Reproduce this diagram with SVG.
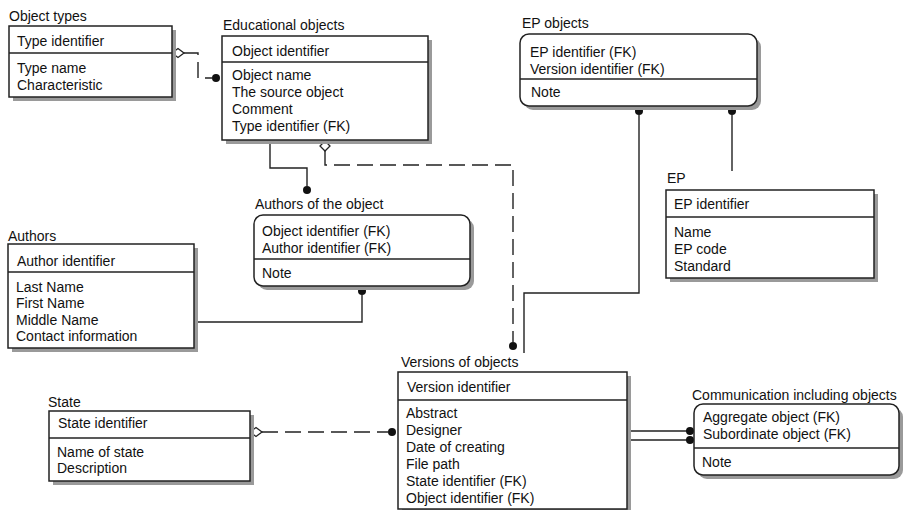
<svg xmlns="http://www.w3.org/2000/svg" width="906" height="510" viewBox="0 0 906 510">
<style>
text{font-family:"Liberation Sans",Arial,sans-serif;font-size:14px;fill:#111}
.box{fill:#fff;stroke:#222;stroke-width:1.5}
.sh{fill:#9a9a9a;stroke:none}
.div{stroke:#222;stroke-width:1.5}
.ln{fill:none;stroke:#222;stroke-width:1.4}
.dash{fill:none;stroke:#222;stroke-width:1.4;stroke-dasharray:16 7}
.dot{fill:#111}
.dia{fill:#fff;stroke:#222;stroke-width:1.3}
</style>
<rect width="906" height="510" fill="#fff"/>
<g id="connectors">
<path class="dash" d="M184,53 H198 V78 H212"/>
<circle class="dot" cx="216" cy="78" r="4"/>
<polygon class="dia" points="172,53 178,48.5 184,53 178,57.5"/>
<path class="ln" d="M270,140 V168 H307 V186"/>
<circle class="dot" cx="307" cy="190" r="4"/>
<path class="dash" d="M325,151 V165 H513 V342"/>
<circle class="dot" cx="513" cy="346" r="4"/>
<polygon class="dia" points="325,141 330,146 325,151 320,146"/>
<path class="ln" d="M198,322 H362 V295"/>
<circle class="dot" cx="362" cy="291" r="4"/>
<path class="ln" d="M639,115 V293 H524 V353"/>
<circle class="dot" cx="639" cy="111" r="4"/>
<path class="ln" d="M732,115 V171"/>
<circle class="dot" cx="732" cy="111" r="4"/>
<path class="dash" d="M262,432 H388"/>
<circle class="dot" cx="392" cy="432" r="4"/>
<polygon class="dia" points="250,432 256,427.5 262,432 256,436.5"/>
<path class="ln" d="M631,431 H690 M631,440 H690"/>
<circle class="dot" cx="690" cy="431" r="4"/>
<circle class="dot" cx="690" cy="440" r="4"/>
</g>
<g id="object-types">
<text x="9" y="21">Object types</text>
<rect class="sh" x="13" y="30" width="163" height="71"/>
<rect class="box" x="9" y="26" width="163" height="71"/>
<line class="div" x1="9" y1="53" x2="172" y2="53"/>
<text x="17" y="46">Type identifier</text>
<text x="17" y="73">Type name</text>
<text x="17" y="90">Characteristic</text>
</g>
<g id="educational-objects">
<text x="223" y="30">Educational objects</text>
<rect class="sh" x="226" y="40" width="206" height="104"/>
<rect class="box" x="222" y="36" width="206" height="104"/>
<line class="div" x1="222" y1="62" x2="428" y2="62"/>
<text x="232" y="56">Object identifier</text>
<text x="232" y="80">Object name</text>
<text x="232" y="97">The source object</text>
<text x="232" y="114">Comment</text>
<text x="232" y="131">Type identifier (FK)</text>
</g>
<g id="authors-of-the-object">
<text x="255" y="209">Authors of the object</text>
<rect class="sh" x="258" y="219" width="216" height="71" rx="9"/>
<rect class="box" x="254" y="215" width="216" height="71" rx="9"/>
<line class="div" x1="254" y1="259" x2="470" y2="259"/>
<text x="262" y="236">Object identifier (FK)</text>
<text x="262" y="253">Author identifier (FK)</text>
<text x="262" y="278">Note</text>
</g>
<g id="authors">
<text x="8" y="241">Authors</text>
<rect class="sh" x="12" y="248" width="186" height="104"/>
<rect class="box" x="8" y="244" width="186" height="104"/>
<line class="div" x1="8" y1="272" x2="194" y2="272"/>
<text x="17" y="266">Author identifier</text>
<text x="16" y="292">Last Name</text>
<text x="16" y="308">First Name</text>
<text x="16" y="325">Middle Name</text>
<text x="16" y="341">Contact information</text>
</g>
<g id="ep-objects">
<text x="522" y="28">EP objects</text>
<rect class="sh" x="524" y="38" width="237" height="72" rx="9"/>
<rect class="box" x="520" y="34" width="237" height="72" rx="9"/>
<line class="div" x1="520" y1="79" x2="757" y2="79"/>
<text x="530" y="57">EP identifier (FK)</text>
<text x="530" y="74">Version identifier (FK)</text>
<text x="531" y="97">Note</text>
</g>
<g id="ep">
<text x="667" y="183">EP</text>
<rect class="sh" x="670" y="194" width="208" height="88"/>
<rect class="box" x="666" y="190" width="208" height="88"/>
<line class="div" x1="666" y1="217" x2="874" y2="217"/>
<text x="674" y="209">EP identifier</text>
<text x="674" y="237">Name</text>
<text x="674" y="254">EP code</text>
<text x="674" y="271">Standard</text>
</g>
<g id="state">
<text x="48" y="407">State</text>
<rect class="sh" x="53" y="415" width="201" height="70"/>
<rect class="box" x="49" y="411" width="201" height="70"/>
<line class="div" x1="49" y1="438" x2="250" y2="438"/>
<text x="58" y="428">State identifier</text>
<text x="57" y="457">Name of state</text>
<text x="57" y="473">Description</text>
</g>
<g id="versions-of-objects">
<text x="401" y="367">Versions of objects</text>
<rect class="sh" x="402" y="376" width="229" height="140"/>
<rect class="box" x="398" y="372" width="229" height="137"/>
<line class="div" x1="398" y1="400" x2="627" y2="400"/>
<text x="407" y="392">Version identifier</text>
<text x="406" y="418">Abstract</text>
<text x="406" y="435">Designer</text>
<text x="406" y="452">Date of creating</text>
<text x="406" y="469">File path</text>
<text x="406" y="486">State identifier (FK)</text>
<text x="406" y="503">Object identifier (FK)</text>
</g>
<g id="communication-including-objects">
<text x="692" y="400">Communication including objects</text>
<rect class="sh" x="698" y="408" width="205" height="71" rx="9"/>
<rect class="box" x="694" y="404" width="205" height="71" rx="9"/>
<line class="div" x1="694" y1="448" x2="899" y2="448"/>
<text x="703" y="422">Aggregate object (FK)</text>
<text x="703" y="439">Subordinate object (FK)</text>
<text x="702" y="467">Note</text>
</g>
</svg>
